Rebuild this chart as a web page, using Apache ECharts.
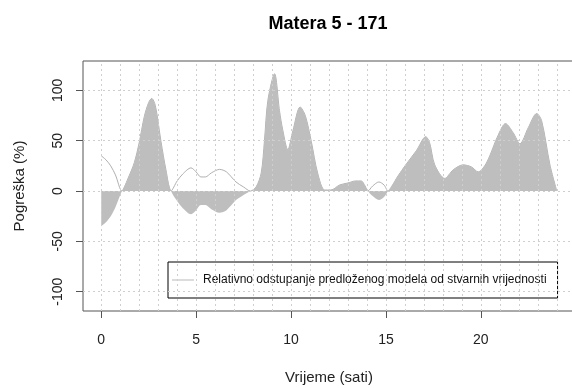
<!DOCTYPE html>
<html>
<head>
<meta charset="utf-8">
<script src="https://cdn.jsdelivr.net/npm/echarts@6/dist/echarts.min.js"></script>
<style>html,body{margin:0;padding:0;background:#fff}#c{width:572px;height:388px}</style>
</head>
<body>
<div id="c"></div>
<script>
const titleText = 'Matera 5 - 171';
const xTitle = 'Vrijeme (sati)';
const yTitle = 'Pogreška (%)';
const legendName = 'Relativno odstupanje predloženog modela od stvarnih vrijednosti';
const hours = [0,0.25,0.5,0.75,1.09,1.4,1.74,2.0,2.27,2.5,2.66,2.85,3.15,3.41,3.68,4.0,4.3,4.73,5.0,5.25,5.49,5.8,6.23,6.6,7.1,7.5,7.86,8.16,8.43,8.6,8.78,9.13,9.39,9.57,9.83,10.1,10.48,10.75,11.07,11.4,11.77,12.1,12.56,13.0,13.4,13.7,13.9,14.05,14.3,14.63,14.9,15.11,15.6,16.08,16.6,17.1,17.3,17.57,18.1,18.54,19.07,19.5,19.86,20.2,20.47,20.9,21.3,21.7,22.06,22.5,22.94,23.2,23.64,24];
const values = [-35,-31,-25,-16,0,12,28,48,74,88,92,85,49,21,0,-10,-17,-23,-19,-14,-14,-18,-21.5,-19,-9,-4,0,4,18,50,90,116.5,80,60,41,60,83.5,75,49,18,1,1,6,8,10,10,5,0,-5,-9,-6,0,14,27,40,54,48,26,12.5,21,26,24,19,25,35,55,67,58,47,63,77,70,26,0];
const xTickValues = [0,5,10,15,20];
const yTickValues = [-100,-50,0,50,100];
const xGridValues = [0,1,2,3,4,5,6,7,8,9,10,11,12,13,14,15,16,17,18,19,20,21,22,23,24];
const yGridValues = [-100,-50,0,50,100];

const fillData = hours.map((h,i)=>[h, values[i]]);
const absData = hours.map((h,i)=>[h, Math.abs(values[i])]);
const gridMarks = xGridValues.map(v=>({xAxis:v})).concat(yGridValues.map(v=>({yAxis:v})));

const chart = echarts.init(document.getElementById('c'));
chart.setOption({
  animation:false,
  backgroundColor:'#fff',
  title:{text:titleText,left:323,top:10,textAlign:'center',textStyle:{fontFamily:'Liberation Sans, Arial',fontSize:18,fontWeight:'bold',color:'#000'}},
  grid:{left:83,top:61,width:492,height:250,outerBoundsMode:'none',containLabel:false,show:true,borderColor:'#555',borderWidth:1,backgroundColor:'transparent'},
  legend:{data:[{name:legendName,icon:'rect',itemStyle:{color:'#b8b8b8'}}],left:168,top:262,borderColor:'#000',borderWidth:1,backgroundColor:'#fff',padding:[12,11,12,4],itemWidth:22,itemHeight:1,itemGap:8,
    textStyle:{fontFamily:'Liberation Sans, Arial',fontSize:12,color:'#111',padding:[0,0,0,4]}},
  xAxis:{type:'value',min:-0.96,max:24.96,
    name:xTitle,nameLocation:'middle',nameGap:59,nameTextStyle:{fontFamily:'Liberation Sans, Arial',fontSize:15,color:'#222'},
    axisLine:{show:false,onZero:false},
    axisTick:{show:true,customValues:xTickValues,length:7,lineStyle:{color:'#555'}},
    axisLabel:{customValues:xTickValues,margin:22,fontFamily:'Liberation Sans, Arial',fontSize:14,color:'#222'},
    splitLine:{show:false}},
  yAxis:{type:'value',min:-119.2,max:129.2,
    name:yTitle,nameLocation:'middle',nameGap:56,nameTextStyle:{fontFamily:'Liberation Sans, Arial',fontSize:15,color:'#222'},
    axisLine:{show:false,onZero:false},
    axisTick:{show:true,customValues:yTickValues,length:7,lineStyle:{color:'#555'}},
    axisLabel:{customValues:yTickValues,rotate:90,margin:18,fontFamily:'Liberation Sans, Arial',fontSize:14,color:'#222'},
    splitLine:{show:false}},
  series:[
    {type:'line',name:'grid',data:[],z:1,silent:true,
      markLine:{silent:true,symbol:'none',label:{show:false},lineStyle:{color:'#cfcfcf',type:[2,3],width:1},data:gridMarks}},
    {type:'line',name:legendName,data:absData,smooth:0.3,symbol:'none',z:2,
      lineStyle:{color:'#b0b0b0',width:1},itemStyle:{color:'#b0b0b0'}},
    {type:'line',name:'fill',data:fillData,smooth:0.3,symbol:'none',z:3,
      lineStyle:{width:0},areaStyle:{color:'#bebebe',opacity:1,origin:0}}
  ]
});
</script>
</body>
</html>
